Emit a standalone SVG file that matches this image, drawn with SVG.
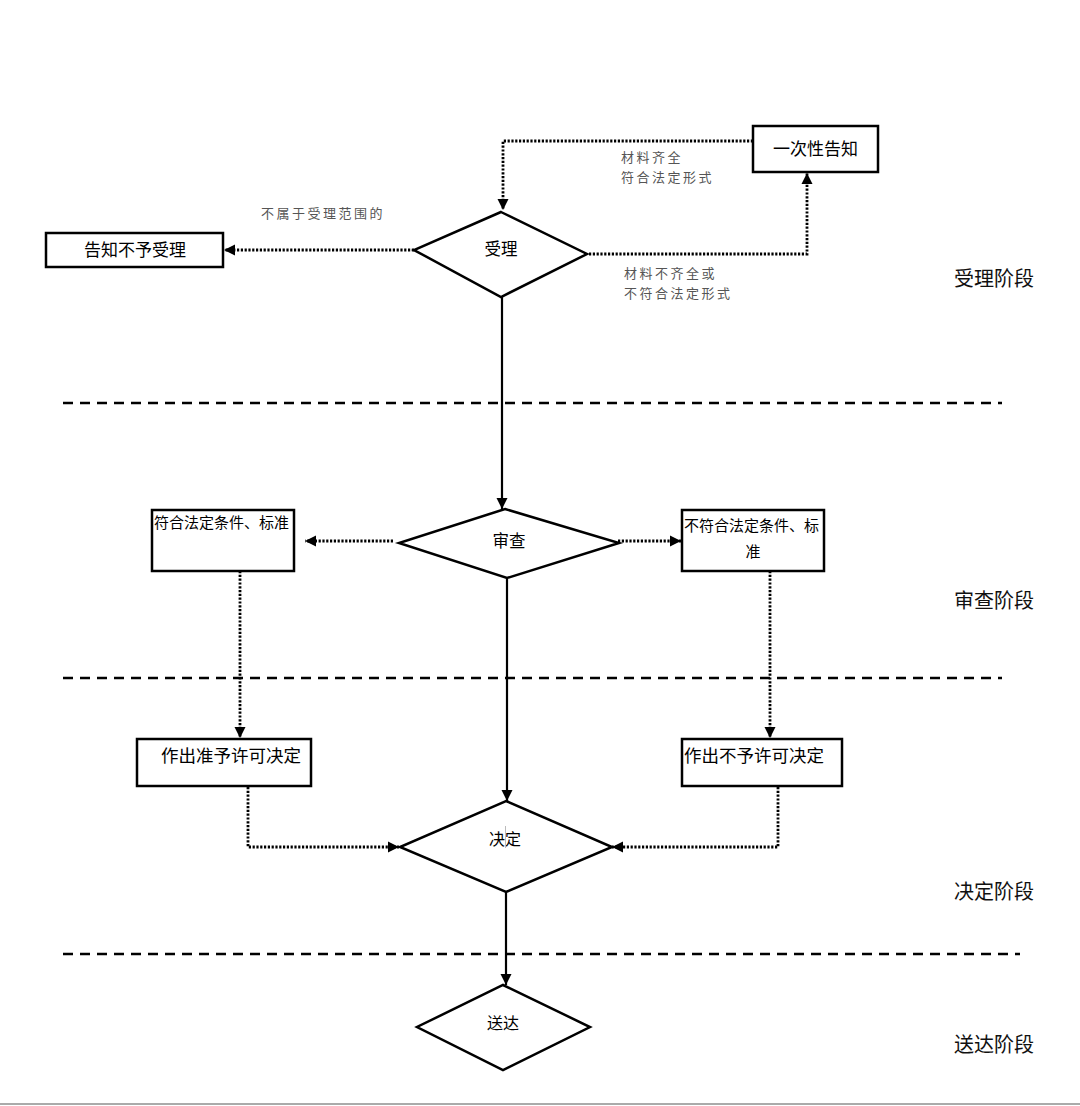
<svg xmlns="http://www.w3.org/2000/svg" width="1080" height="1106" viewBox="0 0 1080 1106">
<style>
.box{fill:#fff;stroke:#000;stroke-width:2.5}
.dia{fill:#fff;stroke:#000;stroke-width:2.5}
.t{font-family:"Noto Sans CJK SC","Noto Sans",sans-serif;fill:#000}
.lbl{font-family:"Noto Sans CJK SC","Noto Sans",sans-serif;fill:#555;font-size:13px;letter-spacing:2.5px}
.stage{font-family:"Noto Sans CJK SC","Noto Sans",sans-serif;fill:#111;font-size:20px}
.solid{fill:none;stroke:#000;stroke-width:2.2}
.dot{fill:none;stroke:#000;stroke-width:2.8;stroke-dasharray:2.2 1.6}
.dash{fill:none;stroke:#000;stroke-width:2.5;stroke-dasharray:10 7}
</style>
<defs>
<marker id="arr" markerUnits="userSpaceOnUse" markerWidth="12" markerHeight="12" refX="11" refY="6" orient="auto">
<path d="M0,0.5 L11,6 L0,11.5 z" fill="#000"/>
</marker>
</defs>
<rect width="1080" height="1106" fill="#fff"/>
<line x1="0" y1="1104" x2="1080" y2="1104" stroke="#aaa" stroke-width="2"/>
<g id="dividers">
<line class="dash" x1="63" y1="403" x2="1002" y2="403"/>
<line class="dash" x1="63" y1="678" x2="1002" y2="678"/>
<line class="dash" x1="63" y1="954" x2="1020" y2="954"/>
</g>
<g id="stages">
<text class="stage" x="954" y="286">受理阶段</text>
<text class="stage" x="954" y="608">审查阶段</text>
<text class="stage" x="954" y="899">决定阶段</text>
<text class="stage" x="954" y="1052">送达阶段</text>
</g>
<g id="connectors">
<path class="dot" d="M753,141 H503 V210" marker-end="url(#arr)"/>
<path class="dot" d="M589,254 H807 V173" marker-end="url(#arr)"/>
<path class="dot" d="M414,250 H224" marker-end="url(#arr)"/>
<path class="solid" d="M502,297 V509" marker-end="url(#arr)"/>
<path class="dot" d="M393,541 H305" marker-end="url(#arr)"/>
<path class="dot" d="M618,541 H681" marker-end="url(#arr)"/>
<path class="dot" d="M240,571 V738" marker-end="url(#arr)"/>
<path class="dot" d="M770,571 V738" marker-end="url(#arr)"/>
<path class="dot" d="M248,787 V847 H399" marker-end="url(#arr)"/>
<path class="dot" d="M778,787 V847 H612" marker-end="url(#arr)"/>
<path class="solid" d="M507,578 V801" marker-end="url(#arr)"/>
<path class="solid" d="M506,892 V985" marker-end="url(#arr)"/>
</g>
<g id="edge-labels">
<text class="lbl" x="621" y="162">材料齐全</text>
<text class="lbl" x="621" y="182">符合法定形式</text>
<text class="lbl" x="624" y="278">材料不齐全或</text>
<text class="lbl" x="624" y="298">不符合法定形式</text>
<text class="lbl" x="261" y="218">不属于受理范围的</text>
</g>
<g id="node-notify-once">
<rect class="box" x="753" y="126" width="125" height="46"/>
<text class="t" x="815.5" y="155" font-size="17" text-anchor="middle">一次性告知</text>
</g>
<g id="node-accept">
<polygon class="dia" points="501,212 587,254 501,297 414,250"/>
<text class="t" x="501" y="255" font-size="16.5" text-anchor="middle">受理</text>
</g>
<g id="node-reject">
<rect class="box" x="46" y="233" width="177" height="34"/>
<text class="t" x="135" y="256" font-size="17" text-anchor="middle">告知不予受理</text>
</g>
<g id="node-review">
<polygon class="dia" points="505,509 619,543 507,578 399,543"/>
<text class="t" x="509" y="547" font-size="16.5" text-anchor="middle">审查</text>
</g>
<g id="node-meets">
<rect class="box" x="152" y="510" width="142" height="61"/>
<text class="t" x="154" y="528" font-size="15">符合法定条件、标准</text>
</g>
<g id="node-not-meets">
<rect class="box" x="682" y="510" width="142" height="61"/>
<text class="t" x="684" y="531" font-size="15">不符合法定条件、标</text>
<text class="t" x="753" y="557" font-size="15" text-anchor="middle">准</text>
</g>
<g id="node-grant">
<rect class="box" x="137" y="739" width="174" height="47"/>
<text class="t" x="161" y="762" font-size="17.5">作出准予许可决定</text>
</g>
<g id="node-deny">
<rect class="box" x="682" y="739" width="160" height="47"/>
<text class="t" x="684" y="762" font-size="17.5">作出不予许可决定</text>
</g>
<g id="node-decide">
<polygon class="dia" points="506,801 612,847 506,892 400,847"/>
<text class="t" x="505" y="845" font-size="16" text-anchor="middle">决定</text>
<line x1="505.5" y1="826" x2="505.5" y2="848" stroke="#bbb" stroke-width="1"/>
</g>
<g id="node-deliver">
<polygon class="dia" points="503,985 590,1027 503,1070 417,1027"/>
<text class="t" x="503" y="1029" font-size="16" text-anchor="middle">送达</text>
</g>
</svg>
